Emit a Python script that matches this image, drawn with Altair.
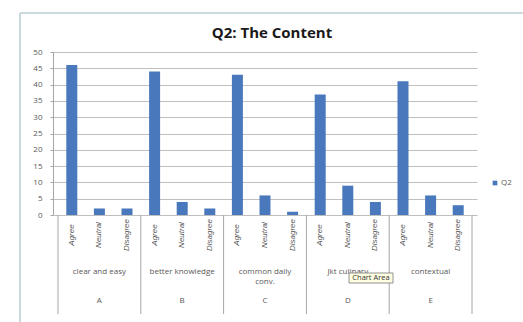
import altair as alt
import pandas as pd

title_text = ["Q2: The Content"]
groups = ["A", "B", "C", "D", "E"]
group_names = ["clear and easy", "better knowledge", "common daily\nconv.", "Jkt culinary", "contextual"]
responses = ["Agree", "Neutral", "Disagree"]
agree = [46, 44, 43, 37, 41]
neutral = [2, 4, 6, 9, 6]
disagree = [2, 2, 1, 4, 3]
boundaries = [0, 3, 6, 9, 12, 15]
series_name = ["Q2"]
tooltip_text = ["Chart Area"]

rows = []
for gi, g in enumerate(groups):
    vals = [agree[gi], neutral[gi], disagree[gi]]
    for ri, r in enumerate(responses):
        rows.append({"pos": gi * 3 + ri + 0.5, "group": g, "name": group_names[gi],
                     "response": r, "value": vals[ri], "series": "Q2", "mid": int(ri == 1)})
df = pd.DataFrame(rows)
bdf = pd.DataFrame({"b": boundaries})
ldf = pd.DataFrame({"series": series_name})
tdf = pd.DataFrame({"t": tooltip_text})
ttl = pd.DataFrame({"t": title_text})

W, H = 424, 163
xs = alt.Scale(domain=[0, 15], nice=False, zero=False)
grey = "#595959"
blue = "#4a78bd"


def X(field):
    return alt.X(field, scale=xs, axis=None)


bars = alt.Chart(df).mark_bar(size=11, color=blue).encode(
    x=X("pos:Q"),
    y=alt.Y("value:Q", scale=alt.Scale(domain=[0, 50]),
            axis=alt.Axis(values=list(range(0, 51, 5)), title=None, labelFontSize=8,
                          labelColor=grey, labelFont="Open Sans", gridColor="#bfbfbf",
                          domainColor="#a6a6a6", tickColor="#a6a6a6", tickSize=3,
                          labelPadding=8)),
)

resp_labels = alt.Chart(df).mark_text(angle=270, fontSize=8, color=grey, font="Liberation Sans",
                                      fontStyle="italic", align="center", baseline="middle").encode(
    x=X("pos:Q"), y=alt.value(183), text="response:N")

mid = df[df["mid"] == 1].reset_index(drop=True)
name_labels = alt.Chart(mid).mark_text(fontSize=8, color=grey, font="Open Sans", lineBreak="\n",
                                       baseline="top", lineHeight=10).encode(
    x=X("pos:Q"), y=alt.value(216), text="name:N")
letter_labels = alt.Chart(mid).mark_text(fontSize=8, color=grey, font="Open Sans").encode(
    x=X("pos:Q"), y=alt.value(249), text="group:N")

seps = alt.Chart(bdf).mark_rule(color="#a6a6a6", strokeWidth=1).encode(
    x=X("b:Q"), y=alt.value(H), y2=alt.value(262))

leg_sym = alt.Chart(ldf).mark_square(size=22, color=blue, opacity=1).encode(
    x=alt.value(442), y=alt.value(131))
leg_txt = alt.Chart(ldf).mark_text(fontSize=8, color=grey, font="Open Sans", align="left").encode(
    x=alt.value(448), y=alt.value(131), text="series:N")

frame_l = alt.Chart(tdf).mark_rule(color="#c9d9dd", strokeWidth=2).encode(
    x=alt.value(-33), y=alt.value(-39), y2=alt.value(272))
frame_t = alt.Chart(tdf).mark_rule(color="#c9d9dd", strokeWidth=2).encode(
    x=alt.value(-33), x2=alt.value(470), y=alt.value(-39))

tip_box = alt.Chart(tdf).mark_rect(fill="#ffffe1", stroke="#767676", strokeWidth=0.8).encode(
    x=alt.value(296), x2=alt.value(340), y=alt.value(221), y2=alt.value(231))
tip_text = alt.Chart(tdf).mark_text(fontSize=7.5, color="#333333", font="Open Sans").encode(
    x=alt.value(318), y=alt.value(226), text="t:N")

title = alt.Chart(ttl).mark_text(fontSize=15, font="Open Sans", fontWeight="bold",
                                 color="#1a1a1a", baseline="middle").encode(
    x=alt.value(219), y=alt.value(-19), text="t:N")

chart = alt.layer(frame_l, frame_t, seps, bars, resp_labels, name_labels, letter_labels,
                  leg_sym, leg_txt, tip_box, tip_text, title).properties(
    width=W, height=H,
    autosize=alt.AutoSizeParams(type="none"),
    padding={"left": 53, "top": 52, "right": 46, "bottom": 107},
).configure_view(strokeWidth=0)

chart.save("out.html", embed_options={"renderer": "svg", "actions": False})
